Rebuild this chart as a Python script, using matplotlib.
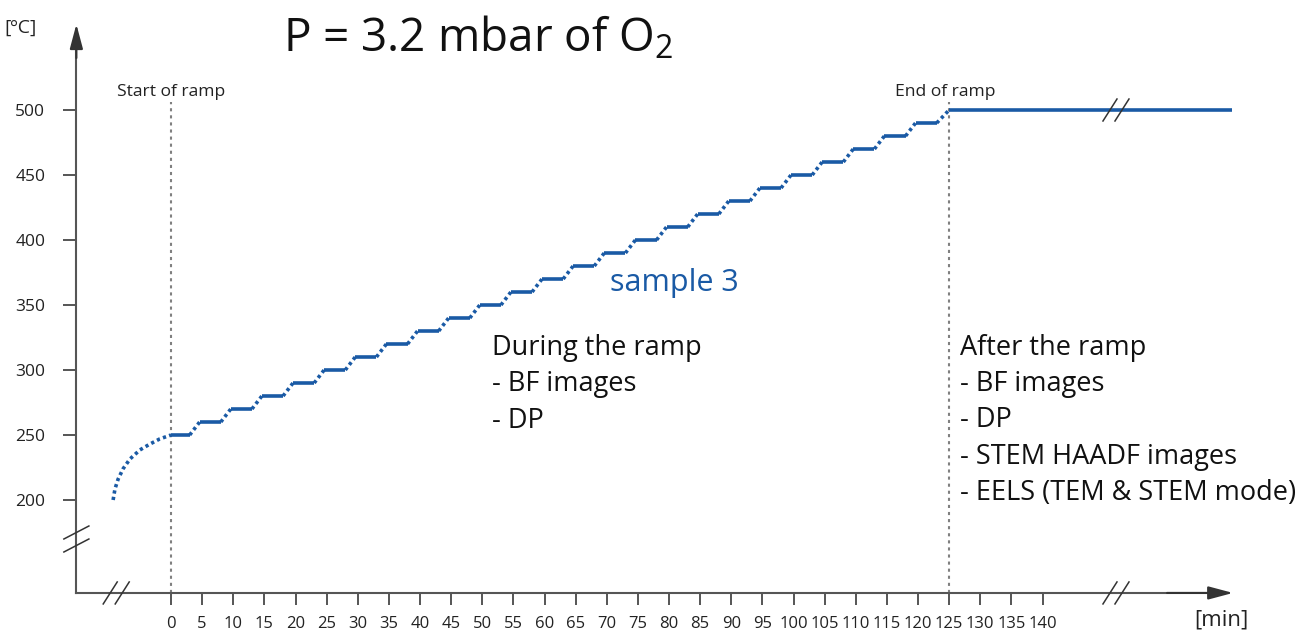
import matplotlib
matplotlib.use("Agg")
import matplotlib.pyplot as plt
from matplotlib.transforms import IdentityTransform
import numpy as np

plt.rcParams['font.family'] = ['Open Sans', 'DejaVu Sans']
plt.rcParams['mathtext.default'] = 'regular'

# --- data ---
warmup_time = [-9.3, -9.0, -8.5, -7.7, -6.6, -5.0, -3.4, -1.8, 0.0]
warmup_temp = [200, 208.5, 216, 224, 231.5, 238.5, 243, 247, 250]

step_temp = [250, 260, 270, 280, 290, 300, 310, 320, 330, 340, 350, 360, 370,
             380, 390, 400, 410, 420, 430, 440, 450, 460, 470, 480, 490]
step_start = [0.0, 4.6, 9.6, 14.6, 19.6, 24.6, 29.6, 34.6, 39.6, 44.6, 49.6,
              54.6, 59.6, 64.6, 69.6, 74.6, 79.6, 84.6, 89.6, 94.6, 99.6,
              104.6, 109.6, 114.6, 119.6]
step_end = [3.0, 8.0, 13.0, 18.0, 23.0, 28.0, 33.0, 38.0, 43.0, 48.0, 53.0,
            58.0, 63.0, 68.0, 73.0, 78.0, 83.0, 88.0, 93.0, 98.0, 103.0,
            108.0, 113.0, 118.0, 123.0]

hold_time = [125, 170.5]
hold_temp = [500, 500]

ramp_start, ramp_end = 0, 125
x_ticks = [0, 5, 10, 15, 20, 25, 30, 35, 40, 45, 50, 55, 60, 65, 70,
           75, 80, 85, 90, 95, 100, 105, 110, 115, 120, 125, 130, 135, 140]
y_ticks = [200, 250, 300, 350, 400, 450, 500]

during_lines = ['During the ramp', '- BF images', '- DP']
after_lines = ['After the ramp', '- BF images', '- DP', '- STEM HAADF images',
               '- EELS (TEM & STEM mode)']

BLUE = '#1a5aa5'
AXIS = '#555555'
X_AXIS_Y = 128.5
Y_AXIS_X = -15.2

fig = plt.figure(figsize=(12.99, 6.33), dpi=100)
ax = fig.add_axes([0, 0, 1, 1])
ax.set_xlim(-27.47, 181.2)
ax.set_ylim(97.69, 584.62)

# axes as spines
for s in ('top', 'right'):
    ax.spines[s].set_visible(False)
ax.spines['left'].set_position(('data', Y_AXIS_X))
ax.spines['bottom'].set_position(('data', X_AXIS_Y))
ax.spines['left'].set_bounds(X_AXIS_Y, 558)
ax.spines['bottom'].set_bounds(Y_AXIS_X, 167)
for s in ('left', 'bottom'):
    ax.spines[s].set_color(AXIS)
    ax.spines[s].set_linewidth(1.5)

ax.set_xticks(x_ticks)
ax.set_xticklabels([str(t) for t in x_ticks])
ax.set_yticks(y_ticks)
ax.set_yticklabels([str(t) for t in y_ticks])
ax.tick_params(axis='x', direction='out', length=8.6, width=1.4, color=AXIS,
               pad=8, labelsize=12, labelcolor='#222222')
ax.tick_params(axis='y', direction='out', length=9.4, width=1.4, color=AXIS,
               pad=13, labelsize=12.5, labelcolor='#222222')

# arrow heads
arrow_kw = dict(arrowstyle='-|>,head_length=0.75,head_width=0.2', color='#333333',
                lw=1.5, mutation_scale=20, shrinkA=0, shrinkB=0)
ax.annotate('', xy=(Y_AXIS_X, 566), xytext=(Y_AXIS_X, 540), arrowprops=arrow_kw)
ax.annotate('', xy=(170.6, X_AXIS_Y), xytext=(160, X_AXIS_Y), arrowprops=arrow_kw)


def draw_break(x, y, dx, dy, ox, oy):
    cx, cy = ax.transData.transform((x, y))
    for k in (-0.5, 0.5):
        bx, by = cx + k * ox, cy + k * oy
        ax.plot([bx - dx / 2, bx + dx / 2], [by - dy / 2, by + dy / 2],
                transform=IdentityTransform(), color='#333333', lw=1.1,
                zorder=6)


# dotted markers for start / end of ramp
vline_kw = dict(color='#808080', lw=1.5, linestyle=(0, (1.5, 1.9)), zorder=1)
ax.plot([ramp_start, ramp_start], [X_AXIS_Y, 506], **vline_kw)
ax.plot([ramp_end, ramp_end], [X_AXIS_Y, 506], **vline_kw)

# warm-up curve
dot_kw = dict(color=BLUE, lw=2.6, linestyle=(0, (0.9, 0.9)),
              solid_capstyle='butt', dash_capstyle='butt', zorder=3)
ax.plot(warmup_time, warmup_temp, **dot_kw)

# steps: solid plateaus, dotted transitions
sx, sy, tx, ty = [], [], [], []
for i, T in enumerate(step_temp):
    sx += [step_start[i], step_end[i], np.nan]
    sy += [T, T, np.nan]
    if i + 1 < len(step_temp):
        tx += [step_end[i], step_start[i + 1], np.nan]
        ty += [T, step_temp[i + 1], np.nan]
tx += [step_end[-1], hold_time[0], np.nan]
ty += [step_temp[-1], hold_temp[0], np.nan]
ax.plot(sx, sy, color=BLUE, lw=2.6, solid_capstyle='butt', zorder=3)
ax.plot(tx, ty, **dot_kw)
ax.plot(hold_time, hold_temp, color=BLUE, lw=2.6, solid_capstyle='butt', zorder=3)

# axis / line breaks
draw_break(Y_AXIS_X, 170, 25, 13, 0, 13)
draw_break(-8.8, X_AXIS_Y, 14, 22, 12, 0)
draw_break(151.8, X_AXIS_Y, 14, 22, 12, 0)
draw_break(151.8, 500, 14, 22, 12, 0)

# texts
ax.text(-26.7, 563, '[ºC]', fontsize=14, va='center', ha='left', color='#222222')
ax.text(164.3, 107.7, '[min]', fontsize=16, va='center', ha='left', color='#222222')
ax.text(18.0, 554.5, 'P = 3.2 mbar of O$_2$', fontsize=33, va='center', ha='left',
        color='#111111')
ax.text(-8.7, 513.8, 'Start of ramp', fontsize=12.6, va='center', ha='left',
        color='#222222')
ax.text(116.3, 513.8, 'End of ramp', fontsize=12.6, va='center', ha='left',
        color='#222222')
ax.text(70.5, 366.9, 'sample 3', fontsize=22, va='center', ha='left', color=BLUE)

during_y = [316.9, 289.2, 260.8]
for line, y in zip(during_lines, during_y):
    ax.text(51.6, y, line, fontsize=19.5, va='center', ha='left', color='#111111')
after_y = [316.9, 289.2, 261.5, 233.1, 205.4]
for line, y in zip(after_lines, after_y):
    ax.text(126.7, y, line, fontsize=19.5, va='center', ha='left', color='#111111')

fig.savefig('out.png', dpi=100)
